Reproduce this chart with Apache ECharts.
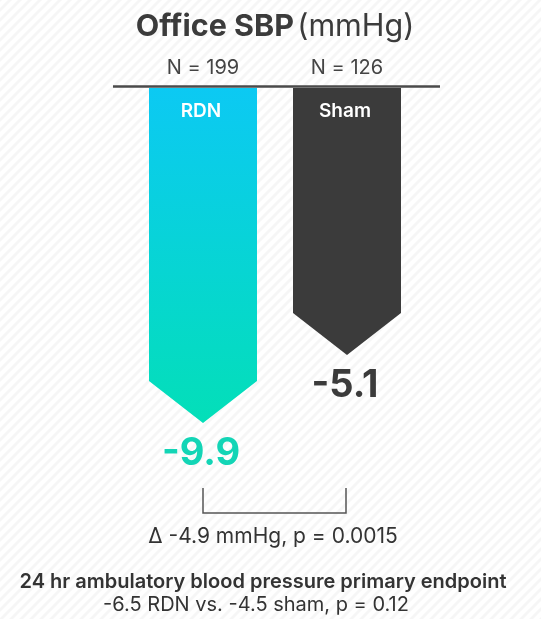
<!DOCTYPE html>
<html>
<head>
<meta charset="utf-8">
<script src="https://cdn.jsdelivr.net/npm/echarts@6/dist/echarts.min.js"></script>
<style>
    html, body { margin: 0; padding: 0; background: #fff; }
    #chart { width: 541px; height: 619px; }
</style>
</head>
<body>
<div id="chart"></div>
<script>
const groups = ["RDN", "Sham"]
const nLabels = ["N = 199", "N = 126"]
const changes = [-9.9, -5.1]
const valueLabels = ["-9.9", "-5.1"]
const deltaText = "Δ -4.9 mmHg, p = 0.0015"
const footTitle = "24 hr ambulatory blood pressure primary endpoint"
const footSub = "-6.5 RDN vs. -4.5 sham, p = 0.12"

const FONT = "Inter, Lato, sans-serif"
const rdnFill = new echarts.graphic.LinearGradient(0, 0, 0, 1, [
    { offset: 0, color: "#0cc9f3" },
    { offset: 1, color: "#03dfb8" },
])
const fills = [rdnFill, "#3b3b3b"]
const labelColors = ["#13d5b6", "#3b3b3b"]

// faint diagonal stripes in the background
function stripes() {
    const c = document.createElement("canvas")
    c.width = 10
    c.height = 10
    const ctx = c.getContext("2d")
    ctx.fillStyle = "#ffffff"
    ctx.fillRect(0, 0, 10, 10)
    ctx.strokeStyle = "rgba(0,0,0,0.035)"
    ctx.lineWidth = 3
    ;[[-5, 5, 5, -5], [0, 10, 10, 0], [5, 15, 15, 5]].forEach(function (l) {
        ctx.beginPath()
        ctx.moveTo(l[0], l[1])
        ctx.lineTo(l[2], l[3])
        ctx.stroke()
    })
    return c
}

function renderArrow(params, api) {
    const i = api.value(0)
    const x = api.coord([i, 0])[0]
    const tip = api.coord([i, api.value(1)])[1]
    const top = params.coordSys.y
    const w = api.size([1, 0])[0] * 0.75
    const head = w * 0.39
    return {
        type: "group",
        children: [
            {
                type: "polygon",
                shape: {
                    points: [
                        [x - w / 2, top],
                        [x + w / 2, top],
                        [x + w / 2, tip - head],
                        [x, tip],
                        [x - w / 2, tip - head],
                    ],
                },
                style: { fill: fills[i] },
            },
            {
                type: "text",
                x: x - 2,
                y: top + 23,
                style: {
                    text: groups[i],
                    fill: "#ffffff",
                    font: "600 19px " + FONT,
                    align: "center",
                    verticalAlign: "middle",
                },
            },
            {
                type: "text",
                x: x - 2,
                y: tip + 30,
                style: {
                    text: valueLabels[i],
                    fill: labelColors[i],
                    font: "bold 38px " + FONT,
                    align: "center",
                    verticalAlign: "middle",
                },
            },
        ],
    }
}

function centerText(text, x, y, weight, size) {
    return {
        type: "text",
        x: x,
        y: y,
        style: {
            text: text,
            fill: "#333",
            font: weight + " " + size + "px " + FONT,
            align: "center",
            verticalAlign: "middle",
        },
    }
}

const myChart = echarts.init(document.getElementById("chart"))
myChart.setOption({
    animation: false,
    backgroundColor: { image: stripes(), repeat: "repeat" },
    grid: { left: 131, right: 122, top: 88, bottom: 162.6 },
    xAxis: {
        type: "category",
        data: groups,
        position: "top",
        axisLine: { show: false },
        axisTick: { show: false },
        axisLabel: {
            margin: 10,
            fontFamily: FONT,
            fontSize: 20,
            color: "#444",
            formatter: function (v, idx) {
                return nLabels[idx]
            },
        },
    },
    yAxis: {
        type: "value",
        min: -12.25,
        max: 13.75,
        show: false,
    },
    series: [
        {
            type: "custom",
            renderItem: renderArrow,
            data: changes.map(function (v, i) {
                return [i, v]
            }),
            z: 2,
        },
    ],
})

// title, notes, baseline rule and the comparison bracket
const xa = myChart.convertToPixel({ xAxisIndex: 0 }, groups[0])
const xb = myChart.convertToPixel({ xAxisIndex: 0 }, groups[1])
myChart.setOption({
    graphic: [
        {
            type: "text",
            x: 275,
            y: 27,
            style: {
                text: "{b|Office SBP} {n|(mmHg)}",
                align: "center",
                verticalAlign: "middle",
                rich: {
                    b: { fontFamily: FONT, fontWeight: "bold", fontSize: 30.5, fill: "#3b3b3b" },
                    n: { fontFamily: FONT, fontWeight: "normal", fontSize: 30.5, fill: "#3b3b3b" },
                },
            },
        },
        centerText(deltaText, 273, 537, "normal", 21),
        centerText(footTitle, 263, 582, 600, 20),
        centerText(footSub, 256, 605, "normal", 20),
        {
            type: "line",
            shape: { x1: 113, y1: 86.5, x2: 440, y2: 86.5 },
            style: { stroke: "#4a4a4a", lineWidth: 2.5 },
            z: 5,
        },
        {
            type: "polyline",
            shape: { points: [[xa, 488], [xa, 513], [xb - 1, 513], [xb - 1, 488]] },
            style: { stroke: "#555", lineWidth: 1.5, fill: null },
        },
    ],
})
</script>
</body>
</html>
